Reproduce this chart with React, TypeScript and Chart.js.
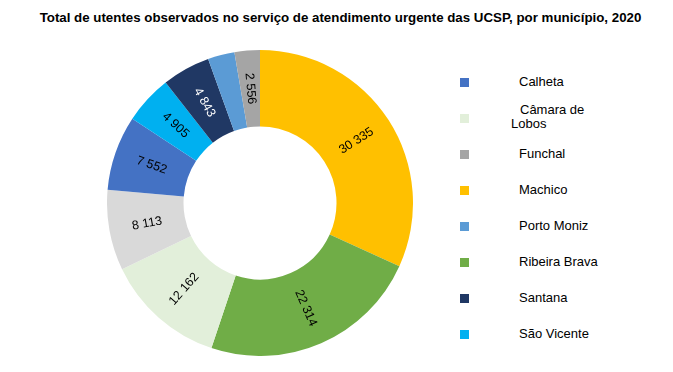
import React, { useEffect, useRef } from "react";
import { Chart, registerables } from "chart.js";

Chart.register(...registerables);

const TITLE = "Total de utentes observados no serviço de atendimento urgente das UCSP, por município, 2020";

// Slices in clockwise order starting at 12 o'clock
const categories = ["Machico", "Ribeira Brava", "Câmara de Lobos", "Santa Cruz", "Calheta", "São Vicente", "Santana", "Porto Moniz", "Funchal"];
const values = [30335, 22314, 12162, 8113, 7552, 4905, 4843, 2700, 2556];
const sliceColors = ["#FFC000", "#70AD47", "#E2EFDA", "#D9D9D9", "#4472C4", "#00B0F0", "#203864", "#5B9BD5", "#A5A5A5"];
const labelColors = ["#000", "#000", "#000", "#000", "#000", "#000", "#FFF", "#000", "#000"];
const showValueLabel = [true, true, true, true, true, true, true, false, true];

// Legend (alphabetical, as in the reference)
const legendLabels = ["Calheta", "Câmara de Lobos", "Funchal", "Machico", "Porto Moniz", "Ribeira Brava", "Santana", "São Vicente"];

const fmt = (v: number) => String(v).replace(/\B(?=(\d{3})+(?!\d))/g, " ");

const valueLabelPlugin = {
  id: "valueLabels",
  afterDatasetsDraw(chart: any) {
    const ctx = chart.ctx;
    const meta = chart.getDatasetMeta(0);
    ctx.save();
    ctx.font = "12.5px 'Liberation Sans', Arial, sans-serif";
    ctx.textAlign = "center";
    ctx.textBaseline = "middle";
    meta.data.forEach((arc: any, i: number) => {
      if (!showValueLabel[i]) return;
      const p = arc.getProps(["x", "y", "startAngle", "endAngle", "innerRadius", "outerRadius"], true);
      const mid = (p.startAngle + p.endAngle) / 2;
      const r = (p.innerRadius + p.outerRadius) / 2;
      const px = p.x + Math.cos(mid) * r;
      const py = p.y + Math.sin(mid) * r;
      let rot = Math.atan2(Math.sin(mid), Math.cos(mid));
      if (rot > Math.PI / 2) rot -= Math.PI;
      if (rot < -Math.PI / 2) rot += Math.PI;
      ctx.save();
      ctx.translate(px, py);
      ctx.rotate(rot);
      ctx.fillStyle = labelColors[i];
      ctx.fillText(fmt(values[i]), 0, 0);
      ctx.restore();
    });
    ctx.restore();
  },
};

export default function App() {
  const ref = useRef<HTMLCanvasElement | null>(null);

  useEffect(() => {
    if (!ref.current) return;
    const chart = new Chart(ref.current, {
      type: "doughnut",
      data: {
        labels: categories,
        datasets: [
          {
            data: values,
            backgroundColor: sliceColors,
            borderWidth: 0,
          },
        ],
      },
      options: {
        animation: false,
        responsive: false,
        cutout: "50%",
        layout: { padding: 0 },
        plugins: {
          legend: { display: false },
          title: { display: false },
          tooltip: { enabled: false },
        },
      },
      plugins: [valueLabelPlugin],
    });
    return () => chart.destroy();
  }, []);

  const font = "'Liberation Sans', Arial, sans-serif";

  return (
    <div
      style={{
        position: "fixed",
        left: 0,
        top: 0,
        width: 673,
        height: 372,
        background: "#fff",
        fontFamily: font,
        color: "#000",
        overflow: "hidden",
      }}
    >
      <div
        style={{
          position: "absolute",
          left: 4,
          top: 10,
          width: 673,
          textAlign: "center",
          fontWeight: "bold",
          fontSize: 13.3,
          lineHeight: "16px",
          whiteSpace: "nowrap",
        }}
      >
        {TITLE}
      </div>
      <canvas
        ref={ref}
        width={306}
        height={306}
        style={{ position: "absolute", left: 107, top: 50, width: 306, height: 306 }}
      />
      {legendLabels.map((lab, i) => {
        const idx = categories.indexOf(lab);
        const cy = 82 + 36 * i;
        const twoLine = lab === "Câmara de Lobos";
        return (
          <React.Fragment key={lab}>
            <div
              style={{
                position: "absolute",
                left: 460,
                top: cy - 4.5,
                width: 9,
                height: 9,
                background: sliceColors[idx],
              }}
            />
            {twoLine ? (
              <div
                style={{
                  position: "absolute",
                  left: 511,
                  top: cy - 15,
                  width: 80,
                  fontSize: 13,
                  lineHeight: "14px",
                  textIndent: 9,
                }}
              >
                {lab}
              </div>
            ) : (
              <div
                style={{
                  position: "absolute",
                  left: 519,
                  top: cy - 7,
                  fontSize: 13,
                  lineHeight: "14px",
                  whiteSpace: "nowrap",
                }}
              >
                {lab}
              </div>
            )}
          </React.Fragment>
        );
      })}
    </div>
  );
}
